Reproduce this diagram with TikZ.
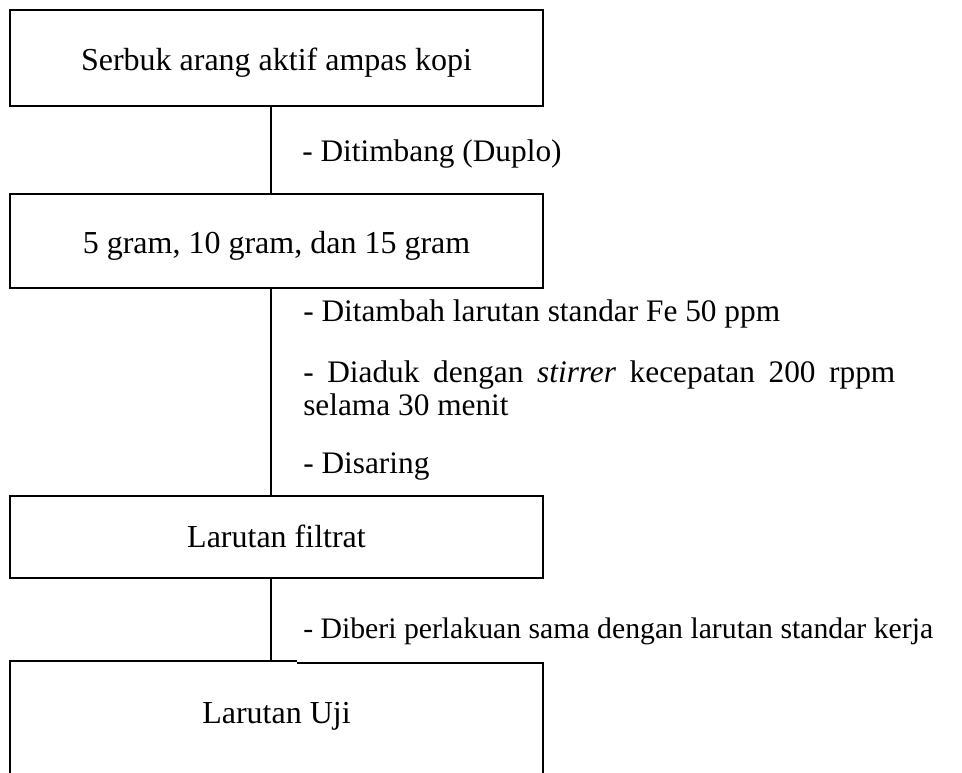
\documentclass[tikz,border=0pt]{standalone}
\usepackage{fontspec}
\setmainfont{Liberation Serif}
\begin{document}
\begin{tikzpicture}[x=0.75pt,y=-0.75pt,
  every node/.style={font=\fontsize{24pt}{25pt}\selectfont},
  box/.style={draw, line width=1.5pt, inner sep=0pt, outer sep=0pt, minimum width=399.75pt},
  lbl/.style={anchor=base west, inner sep=0pt, font=\fontsize{23.5pt}{25pt}\selectfont},
  link/.style={line width=1.5pt}]
\useasboundingbox (0,0) rectangle (962,773);
\coordinate (spine) at (271,0);
\node[box, minimum height=72pt] (b1) at (276.5,58) {};
\node[anchor=base, inner sep=0pt] (b1t) at (276.5,70.5) {Serbuk arang aktif ampas kopi};
\node[box, minimum height=70.5pt] (b2) at (276.5,241) {};
\node[anchor=base, inner sep=0pt] (b2t) at (276.5,253.5) {5 gram, 10 gram, dan 15 gram};
\node[box, minimum height=61.5pt] (b3) at (276.5,537) {};
\node[anchor=base, inner sep=0pt] (b3t) at (276.5,547) {Larutan filtrat};
\node[anchor=base, inner sep=0pt] (b4) at (276.5,723) {Larutan Uji};
\coordinate (b4tl) at (10,661);
\coordinate (b4tm) at (297,661);
\coordinate (b4tr) at (543,663);
\coordinate (b4bl) at (10,773);
\coordinate (b4br) at (543,773);
\draw[link] (b4bl) -- (b4tl) -- (b4tm);
\draw[link] (b4tm |- b4tr) -- (b4tr) -- (b4br);
\draw[link] (b1.south -| spine) -- (b2.north -| spine);
\draw[link] (b2.south -| spine) -- (b3.north -| spine);
\draw[link] (b3.south -| spine) -- (b4tm -| spine);
\node[lbl] (t1) at (302,162) {- Ditimbang (Duplo)};
\node[lbl] (t2) at (303,321) {- Ditambah larutan standar Fe 50 ppm};
\node[lbl] (t3) at (303,382) {\parbox[t]{444pt}{\hyphenpenalty=10000 \parindent=0pt
  - Diaduk dengan \textit{stirrer} kecepatan 200 rppm\linebreak selama 30 menit}};
\node[lbl] (t5) at (303,473) {- Disaring};
\node[lbl, font=\fontsize{22.3pt}{25pt}\selectfont] (t6) at (303,638) {- Diberi perlakuan sama dengan larutan standar kerja};
\end{tikzpicture}
\end{document}
